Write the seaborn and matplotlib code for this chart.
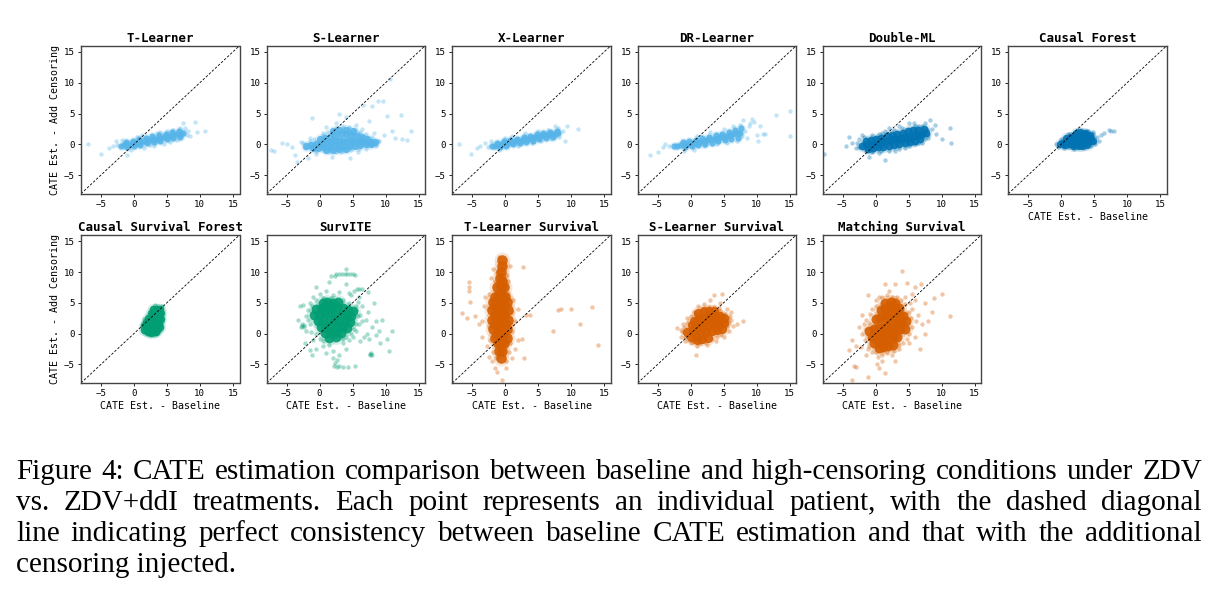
"""
CATE estimates: baseline vs. added censoring, one scatter panel per learner.
Points are hand-read from the reference figure: "core" points mark the dense
part of each cloud, "edge" points are the sparse fringe and outliers.
"""
import matplotlib
matplotlib.use("Agg")
import matplotlib.pyplot as plt
import pandas as pd
import seaborn as sns

# ----------------------------------------------------------------------
# 0. Data (x = CATE baseline, y = CATE with added censoring)
# ----------------------------------------------------------------------
TITLES = ["T-Learner", "S-Learner", "X-Learner", "DR-Learner", "Double-ML",
          "Causal Forest", "Causal Survival Forest", "SurvITE",
          "T-Learner Survival", "S-Learner Survival", "Matching Survival"]
PALETTE_IDX = [9, 9, 9, 9, 0, 0, 2, 2, 3, 3, 3]

t_core = [(-2.0, -0.25), (-1.5, -0.15), (-1.0, 0.0), (-0.5, 0.1), (0.0, 0.2), (0.5, 0.3),
          (1.0, 0.4), (1.5, 0.5), (2.0, 0.65), (2.5, 0.75), (3.0, 0.85), (3.5, 0.95),
          (4.0, 1.1), (4.5, 1.2), (5.0, 1.3), (5.5, 1.4), (6.0, 1.5), (6.5, 1.6),
          (7.0, 1.7), (7.5, 1.8), (-1.2, 0.35), (-0.2, 0.6), (0.8, 0.85), (1.8, 1.05),
          (2.8, 1.3), (3.8, 1.5), (4.8, 1.7), (5.8, 1.95), (6.8, 2.1), (-1.0, -0.45),
          (0.0, -0.25), (1.0, -0.05), (2.0, 0.2), (3.0, 0.4), (4.0, 0.6), (5.0, 0.8),
          (6.0, 1.0), (7.0, 1.2)]
t_edge = [(-7.0, 0.0), (-5.0, -1.6), (-3.8, -0.6), (-3.2, -0.3), (-2.7, 0.5), (-2.5, -0.1),
          (-1.0, -1.8), (-0.5, -0.9), (0.5, 1.2), (1.2, 1.5), (1.5, -0.6), (3.0, -0.2),
          (3.5, 1.9), (4.5, 0.1), (5.0, 2.2), (5.5, 0.4), (6.0, 2.4), (6.5, 0.7),
          (7.0, 2.6), (7.4, 3.4), (8.0, 1.5), (8.2, 2.2), (8.5, 1.3), (9.2, 3.7),
          (9.6, 2.0), (10.8, 2.1), (-1.8, 0.7), (2.5, -0.1), (4.0, 2.0), (7.8, 2.6)]

s_core = [(-2.0, -0.2), (-1.3, -0.1), (-0.6, 0.0), (0.0, 0.1), (0.6, 0.2), (1.2, 0.3),
          (1.8, 0.4), (2.4, 0.5), (3.0, 0.55), (3.6, 0.6), (4.2, 0.6), (4.8, 0.6),
          (5.4, 0.6), (6.0, 0.55), (6.6, 0.5), (7.2, 0.45), (7.8, 0.4), (8.4, 0.35),
          (0.0, 0.8), (0.8, 1.0), (1.6, 1.2), (2.4, 1.4), (3.2, 1.6), (4.0, 1.6),
          (4.8, 1.5), (5.6, 1.4), (6.4, 1.2), (7.2, 0.9), (2.0, 2.1), (3.0, 2.3),
          (4.0, 2.3), (5.0, 2.1), (-1.0, -0.6), (-0.2, -0.6), (0.6, -0.5), (1.4, -0.4),
          (2.2, -0.3), (3.0, -0.3), (3.8, -0.2), (4.6, -0.2), (5.4, -0.2), (6.2, -0.1),
          (7.0, 0.0), (7.8, 0.0), (1.0, -0.9), (2.0, -0.9), (3.0, -0.8), (4.0, -0.7)]
s_edge = [(-7.4, -0.9), (-6.9, -1.0), (-5.7, 0.2), (-5.0, 0.0), (-4.2, -0.5), (-3.4, -2.8),
          (-3.7, -1.7), (-2.8, 0.4), (-1.8, -2.2), (-1.2, 4.2), (-0.5, -1.5), (0.5, 1.8),
          (1.0, 2.8), (1.9, -2.0), (2.5, 3.5), (2.9, 4.9), (3.5, 3.0), (4.0, 4.5),
          (4.6, -2.2), (4.5, 2.8), (5.5, 3.2), (5.8, -1.2), (6.6, 6.4), (6.5, 2.5),
          (7.0, -0.8), (7.5, 3.8), (7.9, 6.25), (8.2, 1.8), (8.9, 7.0), (9.0, 0.5),
          (9.6, 7.0), (9.8, 1.5), (10.2, 4.6), (10.7, 10.6), (10.9, 2.2), (11.5, 1.0),
          (12.4, 4.7), (12.5, 0.8), (13.2, 0.7), (13.9, 2.1), (3.2, -1.3), (6.0, 1.8),
          (-1.5, 1.0), (8.5, -0.3), (-2.5, 0.3), (-2.2, -0.6), (-1.5, 0.5), (-0.8, 0.8),
          (-0.5, -1.0), (0.5, 1.5), (1.2, 2.0), (1.5, -1.2), (2.5, 2.6), (3.5, 2.6),
          (4.5, 2.6), (5.5, 2.3), (6.2, 2.0), (7.0, 1.6), (8.0, 1.2), (8.8, 0.5),
          (8.5, 0.0), (6.0, -0.8), (4.8, -0.9), (3.5, -1.1), (2.5, -1.3)]

x_core = [(-2.0, -0.3), (-1.5, -0.2), (-1.0, -0.05), (-0.5, 0.05), (0.0, 0.15), (0.5, 0.25),
          (1.0, 0.35), (1.5, 0.5), (2.0, 0.6), (2.5, 0.7), (3.0, 0.8), (3.5, 0.9),
          (4.0, 1.0), (4.5, 1.15), (5.0, 1.25), (5.5, 1.35), (6.0, 1.45), (6.5, 1.55),
          (7.0, 1.65), (7.5, 1.75), (8.0, 1.9), (-1.2, 0.3), (-0.2, 0.5), (0.8, 0.75),
          (1.8, 0.95), (2.8, 1.2), (3.8, 1.4), (4.8, 1.6), (5.8, 1.85), (6.8, 2.05),
          (7.8, 2.2), (-0.8, -0.4), (0.2, -0.2), (1.2, 0.0), (2.2, 0.2), (3.2, 0.4),
          (4.2, 0.6), (5.2, 0.8), (6.2, 1.0), (7.2, 1.2)]
x_edge = [(-7.0, 0.0), (-5.2, -1.6), (-4.3, -0.6), (-3.8, -0.2), (-3.0, 0.3), (-2.6, -0.5),
          (-1.0, -0.9), (0.0, 1.0), (1.0, 1.4), (2.0, -0.3), (3.0, 1.9), (4.0, 0.2),
          (5.0, 2.1), (5.5, 0.5), (6.5, 2.4), (7.0, 0.8), (8.0, 2.6), (8.2, 1.2),
          (8.8, 2.2), (9.0, 0.5), (9.3, 2.9), (11.0, 2.5), (7.5, 2.9), (-2.2, 0.6)]

dr_core = [(-2.5, -0.3), (-2.0, -0.2), (-1.5, -0.1), (-1.0, 0.0), (-0.5, 0.1), (0.0, 0.1),
           (0.5, 0.2), (1.0, 0.35), (1.5, 0.45), (2.0, 0.55), (2.5, 0.7), (3.0, 0.8),
           (3.5, 0.9), (4.0, 1.0), (4.5, 1.15), (5.0, 1.25), (5.5, 1.4), (6.0, 1.5),
           (6.5, 1.65), (7.0, 1.8), (7.5, 1.9), (-1.2, 0.35), (-0.2, 0.55), (0.8, 0.75),
           (1.8, 1.0), (2.8, 1.2), (3.8, 1.45), (4.8, 1.7), (5.8, 1.95), (6.8, 2.3),
           (7.6, 2.6), (-0.8, -0.4), (0.2, -0.3), (1.2, -0.1), (2.2, 0.1), (3.2, 0.3),
           (4.2, 0.5), (5.2, 0.7), (6.2, 0.9), (7.2, 1.1)]
dr_edge = [(-6.2, -1.8), (-5.0, -1.2), (-4.2, -0.5), (-3.8, 0.1), (-3.2, -0.2), (-1.0, -1.0),
           (0.5, -0.9), (1.0, 1.4), (2.0, -0.2), (3.0, 2.0), (4.0, 0.0), (5.0, 2.5),
           (5.5, 0.3), (6.5, 3.0), (7.0, 0.5), (7.5, 3.2), (8.0, 3.9), (8.3, 2.2),
           (8.5, 1.0), (9.0, 3.5), (9.3, 4.1), (9.6, 3.6), (10.0, 1.5), (10.2, 0.6),
           (10.5, 2.9), (11.0, 1.6), (11.2, 1.6), (13.0, 4.8), (15.0, 5.4), (15.0, 1.3),
           (8.8, 2.9), (7.8, 1.3)]

dml_core = [(-2.0, -0.2), (-1.4, -0.1), (-0.8, 0.0), (-0.2, 0.1), (0.4, 0.2), (1.0, 0.35),
            (1.6, 0.5), (2.2, 0.65), (2.8, 0.8), (3.4, 0.9), (4.0, 1.0), (4.6, 1.1),
            (5.2, 1.2), (5.8, 1.35), (6.4, 1.5), (7.0, 1.7), (7.6, 1.9), (-1.5, 0.6),
            (-0.7, 0.75), (0.1, 0.9), (0.9, 1.1), (1.7, 1.3), (2.5, 1.5), (3.3, 1.7),
            (4.1, 1.9), (4.9, 2.1), (5.7, 2.3), (6.5, 2.4), (7.3, 2.5), (-1.2, -0.7),
            (-0.4, -0.6), (0.4, -0.5), (1.2, -0.4), (2.0, -0.3), (2.8, -0.1), (3.6, 0.0),
            (4.4, 0.2), (5.2, 0.4), (6.0, 0.6), (6.8, 0.8)]
dml_edge = [(-7.8, -1.5), (-4.5, -0.3), (-4.0, 1.2), (-3.5, 0.2), (-3.0, -0.6), (-2.5, 0.8),
            (-2.0, 1.5), (-1.0, -2.0), (-0.5, -1.2), (0.5, -1.4), (1.5, -2.6), (1.0, 1.8),
            (2.0, 2.6), (3.0, -1.0), (3.5, 3.0), (4.5, -0.6), (5.0, 3.4), (5.8, 3.5),
            (6.0, 0.0), (6.5, 2.9), (7.0, 0.3), (7.5, 3.4), (8.0, 1.0), (8.2, 4.0),
            (8.5, 2.5), (9.0, 3.2), (9.2, 1.7), (10.0, 0.8), (11.3, 2.6), (11.4, 0.2),
            (-2.5, -0.5), (-2.8, 0.3), (-1.8, 1.2), (-0.5, 1.5), (0.5, 1.7), (1.5, 2.1),
            (2.8, 2.4), (4.0, 2.7), (6.0, 3.0), (7.0, 2.9), (7.8, 2.3), (8.0, 1.5),
            (7.5, 0.8), (6.5, 0.2), (5.0, -0.3), (3.5, -0.8), (2.0, -1.1), (0.8, -1.1),
            (-0.5, -1.0), (-1.5, -1.0)]

cf_core = [(-0.2, 0.0), (0.3, 0.3), (0.9, 0.5), (1.5, 0.7), (2.1, 0.8), (2.7, 0.9),
           (3.3, 0.9), (3.9, 1.0), (4.5, 1.0), (0.8, 1.0), (1.4, 1.2), (2.0, 1.4),
           (2.6, 1.5), (3.2, 1.6), (3.8, 1.6), (4.4, 1.5), (0.6, -0.1), (1.2, 0.0),
           (1.8, 0.1), (2.4, 0.2), (3.0, 0.3), (3.6, 0.3), (4.2, 0.4), (4.8, 0.6),
           (1.8, -0.3), (2.5, -0.2), (3.2, -0.2), (3.9, -0.1), (2.2, 1.9), (2.9, 2.0),
           (3.6, 1.9)]
cf_edge = [(-0.8, 0.0), (-0.5, -0.5), (0.0, 0.9), (0.5, -0.6), (1.0, 1.6), (2.0, -0.7),
           (3.0, 2.4), (3.5, -0.6), (4.0, 2.1), (4.8, 2.0), (5.2, 0.0), (5.5, 1.2),
           (6.0, 1.5), (6.5, 1.8), (7.2, 2.4), (7.6, 2.2), (8.0, 2.1), (5.8, 0.6),
           (0.0, 0.5), (0.3, -0.3), (1.0, -0.5), (1.3, 1.6), (2.5, 2.3), (3.8, 2.2),
           (4.8, 1.7), (5.0, 0.5), (4.5, -0.3), (3.0, -0.5)]

csf_core = [(1.6, 0.6), (2.0, 0.5), (2.4, 0.4), (2.8, 0.4), (3.2, 0.5), (3.6, 0.7),
            (1.6, 1.2), (2.0, 1.2), (2.4, 1.1), (2.8, 1.1), (3.2, 1.2), (3.6, 1.3),
            (4.0, 1.1), (1.8, 1.9), (2.2, 1.9), (2.6, 1.9), (3.0, 1.9), (3.4, 1.9),
            (3.8, 1.8), (2.2, 2.6), (2.6, 2.6), (3.0, 2.6), (3.4, 2.6), (3.8, 2.5),
            (4.1, 2.4), (2.6, 3.3), (3.0, 3.3), (3.4, 3.3), (3.8, 3.2), (4.1, 3.3),
            (2.9, 4.0), (3.3, 4.0), (3.7, 4.0), (4.0, 4.0), (2.2, 0.2), (2.6, 0.15),
            (3.0, 0.2), (3.4, 0.3)]
csf_edge = [(1.4, 1.8), (1.5, 2.3), (4.3, 2.0), (4.2, 4.5), (3.2, 4.6), (2.6, 0.0),
            (1.3, 1.4)]

sv_core = [(-0.8, 3.0), (0.0, 3.2), (0.8, 3.3), (1.6, 3.3), (2.4, 3.2), (3.2, 3.1),
           (4.0, 3.0), (4.8, 2.9), (-0.5, 4.0), (0.3, 4.2), (1.1, 4.3), (1.9, 4.3),
           (2.7, 4.2), (3.5, 4.1), (4.3, 3.9), (5.0, 3.7), (-0.2, 2.0), (0.6, 2.1),
           (1.4, 2.2), (2.2, 2.2), (3.0, 2.1), (3.8, 2.0), (4.6, 1.9), (0.2, 1.0),
           (1.0, 1.1), (1.8, 1.2), (2.6, 1.1), (3.4, 1.0), (4.2, 0.9), (0.8, 0.1),
           (1.6, 0.2), (2.4, 0.2), (3.2, 0.1), (0.5, 5.0), (1.2, 5.1), (2.0, 5.0),
           (2.8, 5.2), (1.5, -0.7), (2.5, -0.6)]
sv_edge = [(2.5, 9.6), (3.0, 9.7), (3.4, 9.7), (3.8, 9.7), (4.2, 9.7), (4.6, 9.65),
           (5.0, 9.6), (5.4, 9.5), (1.8, 9.3), (2.3, 9.4), (4.0, 10.5), (5.6, 7.2),
           (6.0, 7.3), (6.4, 7.2), (5.2, 6.9), (4.5, 6.6), (7.3, 6.8), (2.2, -5.3),
           (2.6, -5.4), (3.0, -5.3), (3.6, -5.4), (4.3, -5.4), (5.3, -5.2), (2.4, -4.8),
           (2.6, -4.3), (2.0, -4.0), (3.0, -3.5), (-3.0, 4.5), (-2.5, 4.6), (-3.2, 2.2),
           (-2.8, 1.0), (-2.0, 0.5), (-2.2, -1.5), (-1.5, -2.7), (-1.0, -1.0),
           (-1.2, -3.5), (-0.5, -2.5), (0.5, -2.0), (1.0, -3.2), (1.5, -1.8), (2.0, -2.8),
           (3.5, -1.5), (4.0, -2.5), (4.5, -1.0), (5.0, -0.5), (5.5, 0.5), (6.0, 1.5),
           (6.2, -1.2), (6.8, -0.5), (7.2, 0.0), (7.5, -0.8), (7.8, -3.2), (7.6, -3.5),
           (8.0, 1.0), (8.5, 2.0), (9.2, -1.5), (9.5, 2.2), (10.2, -0.8), (11.0, 0.5),
           (10.5, -2.8), (8.2, 5.0), (7.3, 3.5), (6.5, 4.5), (5.8, 5.2), (6.2, 3.0),
           (-1.0, 6.0), (-0.5, 7.5), (0.0, 6.5), (1.0, 7.0), (2.0, 6.2), (3.0, 6.8),
           (-1.8, 3.8), (-1.5, 5.0), (-2.0, 2.8), (7.0, 2.2), (5.5, 3.8), (9.0, 0.5),
           (8.6, -0.2), (4.0, 8.0), (1.5, 8.3), (-1.5, 1.5), (-1.8, 2.2), (-1.3, 0.3),
           (-1.2, 4.5), (-0.5, 5.5), (0.5, 5.8), (1.8, 5.8), (3.5, 5.5), (4.5, 5.0),
           (5.5, 4.5), (5.8, 2.8), (5.5, 1.5), (5.2, 0.8), (4.8, 0.0), (4.0, -0.5),
           (3.5, -0.8), (0.0, -0.8), (-0.5, 0.0), (0.5, -1.2), (-2.6, 1.2), (-2.3, 1.4),
           (-2.4, 1.0), (-2.7, 1.5), (7.6, -3.3), (7.9, -3.4), (6.5, 2.0), (6.0, 6.0),
           (4.8, 6.2)]

ts_core = [(-0.8, 9.0), (-0.6, 10.0), (-0.4, 11.0), (-1.2, 7.5), (-0.7, 7.8), (-0.2, 7.5),
           (-1.5, 6.0), (-1.0, 6.2), (-0.5, 6.2), (0.0, 6.0), (-1.6, 4.5), (-1.1, 4.6),
           (-0.6, 4.6), (-0.1, 4.5), (-1.6, 3.0), (-1.1, 3.0), (-0.6, 3.0), (-0.1, 3.0),
           (-1.5, 1.5), (-1.0, 1.5), (-0.5, 1.5), (0.0, 1.5), (-1.3, 0.0), (-0.8, 0.0),
           (-0.3, 0.0), (-1.1, -1.5), (-0.6, -1.5), (-0.1, -1.5), (-0.9, -2.8),
           (-0.4, -2.8), (-0.6, -4.0), (-0.5, 8.5), (-0.4, 12.0), (-2.0, 3.8),
           (-2.0, 2.2), (0.4, 3.8), (0.4, 2.2), (-1.9, 5.2), (0.3, 5.2), (-1.8, 0.8),
           (0.3, 0.8), (0.3, -0.7), (-1.6, -0.7)]
ts_edge = [(-5.5, 8.3), (-5.5, 7.6), (-5.4, 7.0), (-6.6, 3.3), (-5.3, 5.2), (-5.8, 2.6),
           (-4.5, 2.8), (-4.0, 1.5), (-3.5, -0.5), (-3.2, 4.5), (-3.0, 6.0), (-2.8, -2.0),
           (-2.5, -3.8), (-2.2, 9.0), (-2.0, -4.5), (-1.8, 10.5), (-1.5, -5.5),
           (-1.2, -6.2), (-1.0, 12.5), (-0.5, -7.5), (0.2, -5.5), (0.5, 8.5), (0.8, 11.0),
           (1.0, -4.0), (1.2, 5.5), (1.5, 2.0), (2.0, -1.0), (2.0, 4.0), (2.5, -0.8),
           (2.7, 10.8), (2.8, -3.9), (3.2, 3.0), (3.8, 3.0), (7.3, 0.4), (8.0, 3.9),
           (8.4, 4.0), (10.0, 4.0), (11.3, 1.5), (13.2, 4.3), (14.0, -1.9), (1.5, -2.5),
           (-3.5, 2.0), (0.5, 6.5), (1.0, 0.5), (-2.5, 6.5), (-2.6, 4.0), (-2.4, 1.0),
           (-2.3, -1.0), (1.0, 3.5), (0.9, 1.5), (0.8, -1.5), (0.6, -3.0), (-1.8, -3.0),
           (-1.5, 8.5), (0.3, 9.5), (-1.3, 10.0), (0.2, -4.5), (-1.4, -4.0)]

ss_core = [(-0.5, 0.3), (0.3, 0.6), (1.1, 0.9), (1.9, 1.1), (2.7, 1.3), (3.5, 1.5),
           (4.3, 1.6), (5.0, 1.7), (0.0, -0.5), (0.8, -0.3), (1.6, 0.0), (2.4, 0.2),
           (3.2, 0.4), (4.0, 0.6), (4.8, 0.8), (0.5, 2.0), (1.3, 2.3), (2.1, 2.5),
           (2.9, 2.7), (3.7, 2.9), (4.5, 2.8), (0.2, 1.4), (1.0, 1.6), (1.8, 1.8),
           (2.6, 2.0), (3.4, 2.2), (4.2, 2.3), (5.0, 2.5), (1.2, 3.4), (2.0, 3.6),
           (2.8, 3.7), (3.6, 3.7), (1.0, -1.0), (1.8, -0.9), (2.6, -0.7)]
ss_edge = [(-2.0, 0.9), (-1.5, -0.5), (-1.2, 1.5), (-0.8, -1.2), (-0.5, 2.5), (0.0, -1.5),
           (0.5, 3.5), (1.0, -2.0), (1.2, 4.5), (0.9, -3.4), (2.0, 4.8), (2.5, -1.8),
           (3.0, 5.5), (3.5, 6.2), (3.8, -1.2), (4.5, 5.0), (4.8, 6.5), (5.0, -0.5),
           (5.5, 4.0), (5.8, 0.5), (6.0, 2.8), (6.2, 3.5), (6.5, 1.2), (7.0, 1.5),
           (8.0, 2.0), (5.5, 2.0), (4.3, 4.2), (-1.2, 0.2), (-1.0, 1.0), (-0.8, -0.6),
           (-0.5, 1.8), (-0.3, -1.0), (0.0, 2.8), (0.3, -1.4), (0.8, 3.2), (1.5, -1.5),
           (1.7, 4.0), (2.2, -1.3), (2.8, 4.3), (3.2, -0.8), (3.6, 4.4), (4.4, 3.6),
           (4.6, -0.2), (5.2, 3.2), (5.5, 1.3), (5.6, 2.6), (5.9, 1.8), (6.2, 2.2),
           (-1.5, 0.6), (4.0, -0.5)]

ms_core = [(-1.0, 0.5), (-0.3, 0.7), (0.4, 0.9), (1.1, 1.1), (1.8, 1.3), (2.5, 1.5),
           (3.2, 1.7), (3.9, 1.9), (4.6, 2.0), (-0.5, -0.5), (0.2, -0.3), (0.9, -0.1),
           (1.6, 0.1), (2.3, 0.3), (3.0, 0.5), (3.7, 0.7), (4.4, 0.8), (0.0, 2.3),
           (0.7, 2.5), (1.4, 2.7), (2.1, 2.9), (2.8, 3.0), (3.5, 3.0), (4.2, 2.9),
           (-0.2, -1.5), (0.5, -1.3), (1.2, -1.1), (1.9, -0.9), (2.6, -0.7), (3.3, -0.5),
           (0.8, 3.8), (1.5, 4.0), (2.2, 4.2), (2.9, 4.2), (3.6, 4.1), (0.5, -2.3),
           (1.2, -2.2), (1.9, -2.0), (2.6, -1.8), (1.5, 5.0), (2.3, 5.2), (3.0, 5.0)]
ms_edge = [(-3.6, -7.5), (-3.0, -5.4), (-3.2, -5.3), (-1.2, -7.0), (0.2, -5.0), (0.5, -5.5),
           (1.5, -6.3), (-4.0, -2.6), (-3.5, -1.0), (-3.0, -2.0), (-2.5, 1.0), (-2.0, 3.0),
           (-1.5, -3.5), (-1.2, 6.2), (-1.0, -2.0), (0.0, -3.0), (0.0, 4.5), (1.0, 6.0),
           (1.5, 8.0), (2.0, 7.0), (2.5, -3.5), (3.0, 8.0), (3.5, -2.5), (4.0, 10.1),
           (4.5, 6.0), (4.8, 8.2), (5.0, -1.5), (5.5, 4.0), (6.0, 7.5), (6.5, 3.0),
           (6.8, -2.5), (6.9, 8.0), (7.0, 1.5), (7.5, 5.0), (7.5, 0.0), (8.0, 2.0),
           (8.5, 3.5), (8.8, 5.8), (10.0, 6.5), (11.2, 2.8), (6.0, -0.5), (5.5, 6.5),
           (-2.0, 0.0), (-1.8, 1.5), (-1.6, -1.0), (-1.5, 2.2), (-1.4, 0.8), (-1.2, -2.5),
           (-0.8, 3.2), (-0.6, -3.0), (-0.5, 4.0), (0.0, 5.5), (0.3, -3.8), (0.5, 6.0),
           (1.0, -3.5), (1.8, 6.2), (2.5, 6.0), (3.2, 6.0), (3.8, 5.5), (4.5, 4.8),
           (5.0, 3.5), (5.3, 2.5), (5.5, 1.0), (5.0, 0.0), (4.8, -0.8), (4.2, -1.5),
           (3.5, -1.8), (2.8, -2.8), (1.8, -3.2), (3.9, 3.8), (4.6, 3.3), (-1.0, 1.8),
           (5.2, 5.0), (6.0, 5.5), (6.2, 2.0), (3.0, -4.5), (1.0, -4.5), (-2.2, -2.2)]

CORES = [t_core, s_core, x_core, dr_core, dml_core, cf_core,
         csf_core, sv_core, ts_core, ss_core, ms_core]
EDGES = [t_edge, s_edge, x_edge, dr_edge, dml_edge, cf_edge,
         csf_edge, sv_edge, ts_edge, ss_edge, ms_edge]

AX_TICKS = [-5, 0, 5, 10, 15]
AX_LIM = (-8, 16)

CAPTION = [
    "Figure 4: CATE estimation comparison between baseline and high-censoring conditions under ZDV",
    "vs.  ZDV+ddI treatments.  Each point represents an individual patient, with the dashed diagonal",
    "line indicating perfect consistency between baseline CATE estimation and that with the additional",
    "censoring injected.",
]

# ----------------------------------------------------------------------
# 1. Style
# ----------------------------------------------------------------------
sns.set_style("ticks")
plt.rcParams.update({
    "font.family": "DejaVu Sans Mono",
    "text.color": "black",
    "axes.labelcolor": "black",
    "xtick.color": "black",
    "ytick.color": "black",
    "axes.edgecolor": "#444444",
    "axes.linewidth": 1.0,
    "xtick.major.size": 2.5,
    "ytick.major.size": 2.5,
    "xtick.major.width": 0.6,
    "ytick.major.width": 0.6,
})
pal = sns.color_palette("colorblind")

# marker area of the dense-core points, per panel (bigger for wide clouds)
CORE_S = [20, 28, 20, 20, 32, 28, 30, 50, 58, 45, 52]

FW, FH = 1219, 592
fig = plt.figure(figsize=(FW / 100, FH / 100), dpi=100)
fig.patch.set_facecolor("white")

col_left = [81, 266.7, 452.3, 637.7, 822.7, 1008.3]
row_top = [45.7, 235.0]
AW, AH = 158.5, 148.0

# ----------------------------------------------------------------------
# 2. Panels
# ----------------------------------------------------------------------
for i, title in enumerate(TITLES):
    r, c = divmod(i, 6)
    ax = fig.add_axes([col_left[c] / FW, 1 - (row_top[r] + AH) / FH, AW / FW, AH / FH])
    color = pal[PALETTE_IDX[i]]
    core = pd.DataFrame(CORES[i], columns=["base", "cens"])
    edge = pd.DataFrame(EDGES[i], columns=["base", "cens"])

    sns.scatterplot(data=core, x="base", y="cens", ax=ax, color=color,
                    s=CORE_S[i] * 2.3, alpha=0.15, linewidth=0)
    sns.scatterplot(data=core, x="base", y="cens", ax=ax, color=color,
                    s=CORE_S[i], alpha=0.9, linewidth=0)
    sns.scatterplot(data=edge, x="base", y="cens", ax=ax, color=color,
                    s=10, alpha=0.35, linewidth=0)
    ax.axline((0, 0), slope=1, color="black", linestyle="--", linewidth=0.6,
              dashes=(3, 2))

    ax.set_xlim(AX_LIM)
    ax.set_ylim(AX_LIM)
    ax.set_xticks(AX_TICKS)
    ax.set_yticks(AX_TICKS)
    ax.tick_params(labelsize=6.6, pad=2)
    ax.set_title(title, fontsize=9, fontweight="bold", pad=3)
    ax.set_xlabel("CATE Est. - Baseline" if (r == 1 or c == 5) else "",
                  fontsize=7.2, labelpad=2)
    ax.set_ylabel("CATE Est. - Add Censoring" if c == 0 else "",
                  fontsize=7.2, labelpad=3)

# ----------------------------------------------------------------------
# 3. Caption (justified like the paper)
# ----------------------------------------------------------------------
renderer = fig.canvas.get_renderer()
cap_left, cap_right = 16, 1202
baselines = [479, 510, 541, 572]
cap_kw = dict(fontsize=21, family="Liberation Serif", va="baseline", ha="left",
              color="black")

for k, line in enumerate(CAPTION):
    y = 1 - baselines[k] / FH
    if k == len(CAPTION) - 1:
        fig.text(cap_left / FW, y, line, **cap_kw)
        continue
    words = line.split()
    widths = []
    for w in words:
        t = fig.text(0, 0, w, **cap_kw)
        widths.append(t.get_window_extent(renderer).width)
        t.remove()
    gap = (cap_right - cap_left - sum(widths)) / (len(words) - 1)
    x = cap_left
    for w, wd in zip(words, widths):
        fig.text(x / FW, y, w, **cap_kw)
        x += wd + gap

fig.savefig("out.png", dpi=100, facecolor="white")
plt.close(fig)
